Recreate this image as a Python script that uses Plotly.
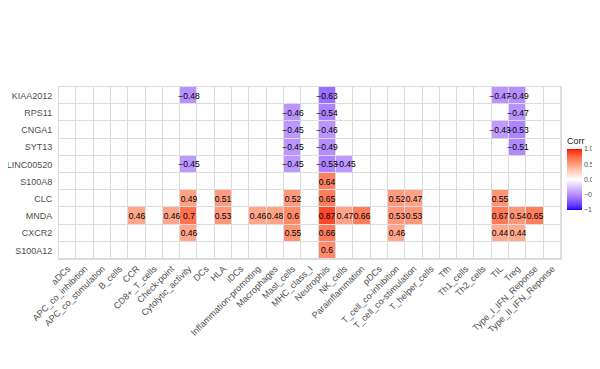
import plotly.graph_objects as go
import numpy as np

genes = ["KIAA2012", "RPS11", "CNGA1", "SYT13", "LINC00520",
         "S100A8", "CLC", "MNDA", "CXCR2", "S100A12"]

cells = ["aDCs", "APC_co_inhibition", "APC_co_stimulation", "B_cells", "CCR",
         "CD8+_T_cells", "Check-point", "Cytolytic_activity", "DCs", "HLA", "iDCs",
         "Inflammation-promoting", "Macrophages", "Mast_cells", "MHC_class_I",
         "Neutrophils", "NK_cells", "Parainflammation", "pDCs",
         "T_cell_co-inhibition", "T_cell_co-stimulation", "T_helper_cells", "Tfh",
         "Th1_cells", "Th2_cells", "TIL", "Treg", "Type_I_IFN_Reponse",
         "Type_II_IFN_Reponse"]

# significant correlations: gene -> {cell type: corr}
corr_KIAA2012 = {"Cytolytic_activity": -0.48, "Neutrophils": -0.63, "TIL": -0.47, "Treg": -0.49}
corr_RPS11 = {"Mast_cells": -0.46, "Neutrophils": -0.54, "Treg": -0.47}
corr_CNGA1 = {"Mast_cells": -0.45, "Neutrophils": -0.46, "TIL": -0.43, "Treg": -0.53}
corr_SYT13 = {"Mast_cells": -0.45, "Neutrophils": -0.49, "Treg": -0.51}
corr_LINC00520 = {"Cytolytic_activity": -0.45, "Mast_cells": -0.45, "Neutrophils": -0.53,
                  "NK_cells": -0.45}
corr_S100A8 = {"Neutrophils": 0.64}
corr_CLC = {"Cytolytic_activity": 0.49, "HLA": 0.51, "Mast_cells": 0.52, "Neutrophils": 0.65,
            "T_cell_co-inhibition": 0.52, "T_cell_co-stimulation": 0.47, "TIL": 0.55}
corr_MNDA = {"CCR": 0.46, "Check-point": 0.46, "Cytolytic_activity": 0.7, "HLA": 0.53,
             "Inflammation-promoting": 0.46, "Macrophages": 0.48, "Mast_cells": 0.6,
             "Neutrophils": 0.87, "NK_cells": 0.47, "Parainflammation": 0.66,
             "T_cell_co-inhibition": 0.53, "T_cell_co-stimulation": 0.53, "TIL": 0.67,
             "Treg": 0.54, "Type_I_IFN_Reponse": 0.65}
corr_CXCR2 = {"Cytolytic_activity": 0.46, "Mast_cells": 0.55, "Neutrophils": 0.66,
              "T_cell_co-inhibition": 0.46, "TIL": 0.44, "Treg": 0.44}
corr_S100A12 = {"Neutrophils": 0.6}

rows = [corr_KIAA2012, corr_RPS11, corr_CNGA1, corr_SYT13, corr_LINC00520,
        corr_S100A8, corr_CLC, corr_MNDA, corr_CXCR2, corr_S100A12]

z = []
txt = []
for r in rows:
    z.append([r.get(c, 0.0) for c in cells])
    txt.append([("%g" % r[c]).replace("-", "\u2212") if c in r else "" for c in cells])


# Lab-space diverging scale (blue - white - red), like ggplot's gradient2
def lab_to_rgb(L, a, b):
    fy = (L + 16) / 116
    fx = fy + a / 500
    fz = fy - b / 200
    def finv(t):
        return t ** 3 if t ** 3 > 0.008856 else (t - 16 / 116) / 7.787
    X, Y, Z = 0.95047 * finv(fx), 1.0 * finv(fy), 1.08883 * finv(fz)
    r = 3.2406 * X - 1.5372 * Y - 0.4986 * Z
    g = -0.9689 * X + 1.8758 * Y + 0.0415 * Z
    bb = 0.0557 * X - 0.2040 * Y + 1.0570 * Z
    def gam(c):
        c = max(0.0, min(1.0, c))
        return 12.92 * c if c <= 0.0031308 else 1.055 * c ** (1 / 2.4) - 0.055
    return "rgb(%d,%d,%d)" % tuple(round(gam(c) * 255) for c in (r, g, bb))

white = (100.0, 0.0, 0.0)
red = (53.24, 80.09, 67.20)
blue = (32.30, 79.19, -107.86)
scale = []
for t in np.linspace(0, 1, 21):
    lo = tuple(blue[i] + (white[i] - blue[i]) * t for i in range(3))
    scale.append([t / 2, lab_to_rgb(*lo)])
for t in np.linspace(0, 1, 21)[1:]:
    hi = tuple(white[i] + (red[i] - white[i]) * t for i in range(3))
    scale.append([0.5 + t / 2, lab_to_rgb(*hi)])

fig = go.Figure(go.Heatmap(
    z=z, x=cells, y=genes, text=txt, texttemplate="%{text}",
    textfont=dict(size=8.5, color="black", family="Liberation Sans, Arial"),
    colorscale=scale, zmin=-1, zmax=1, xgap=1, ygap=1,
    colorbar=dict(
        title=dict(text="Corr", side="top", font=dict(size=9, color="#222")),
        thickness=15, len=76, lenmode="pixels", ypad=0, xpad=0,
        x=1.012, xanchor="left", y=0.727, yanchor="top",
        tickvals=[-1, -0.5, 0, 0.5, 1],
        ticktext=["\u22121.0", "\u22120.5", "0.0", "0.5", "1.0"],
        tickfont=dict(size=7, color="#4d4d4d"), outlinewidth=0, ticks="",
    ),
))

# the page shows the figure 8px lower than its own origin: compensate at top
fig.update_layout(
    width=600, height=361,
    margin=dict(l=51, r=47, t=79, b=110, autoexpand=False),
    paper_bgcolor="white", plot_bgcolor="#dcdcdc",
    font=dict(family="Liberation Sans, Arial", color="#4d4d4d"),
    showlegend=False,
)
fig.update_xaxes(tickangle=-45, tickfont=dict(size=9, color="#4d4d4d"),
                 showgrid=False, zeroline=False, showline=True, mirror=True,
                 linecolor="#dcdcdc", linewidth=1, ticks="", automargin=False)
fig.update_yaxes(autorange="reversed", tickfont=dict(size=9, color="#4d4d4d"),
                 showgrid=False, zeroline=False, showline=True, mirror=True,
                 linecolor="#dcdcdc", linewidth=1, ticks="", ticklabelstandoff=4,
                 automargin=False)

fig.write_html("out.html")
